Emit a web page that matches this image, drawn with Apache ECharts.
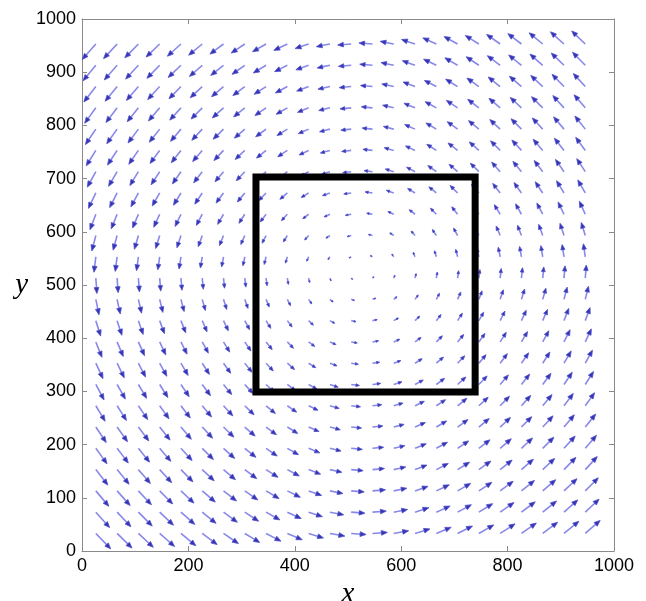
<!DOCTYPE html>
<html>
<head>
<meta charset="utf-8">
<script src="https://cdn.jsdelivr.net/npm/echarts@6/dist/echarts.min.js"></script>
<style>
html,body{margin:0;padding:0;background:#fff;}
#chart{width:646px;height:601px;}
</style>
</head>
<body>
<div id="chart"></div>
<script>
// Grid positions of the arrow tails (data units)
var xGrid = [26,66,106,146,186,226,266,306,346,386,426,466,506,546,586,626,666,706,746,786,826,866,906,946];
var yGrid = [33,73,113,153,193,233,273,313,353,393,433,473,513,553,593,633,673,713,753,793,833,873,913,953];
// Horizontal arrow component read per row (bottom to top), data units
var uByRow = [28,26,24.5,22.5,21,19.5,17.5,15.5,13.5,11.5,9,6,2,-3.5,-7.5,-11,-14,-16,-18,-19.5,-21,-22.5,-24,-25.5];
// Vertical arrow component read per column (left to right), data units
var vByCol = [-29,-27.5,-26,-24.5,-23,-21,-19,-17,-14.5,-12,-8.5,-5,-2,2,5,8.5,11.5,14,16,18,19.5,21,23,24.5];
// Black rectangle corners
var boxX = [327,739,739,327,327];
var boxY = [299,299,703,703,299];
// Tick values
var xTicks = [0,200,400,600,800,1000];
var yTicks = [0,100,200,300,400,500,600,700,800,900,1000];

var arrows = [];
for (var i = 0; i < yGrid.length; i++) {
  for (var j = 0; j < xGrid.length; j++) {
    arrows.push([xGrid[j], yGrid[i], uByRow[i], vByCol[j]]);
  }
}
var boxData = boxX.map(function(x, k){ return [x, boxY[k]]; });

function renderArrow(params, api) {
  var x = api.value(0), y = api.value(1), u = api.value(2), v = api.value(3);
  var p0 = api.coord([x, y]);
  var p1 = api.coord([x + u, y + v]);
  var dx = p1[0] - p0[0], dy = p1[1] - p0[1];
  var len = Math.sqrt(dx*dx + dy*dy);
  if (len < 0.01) return null;
  var ux = dx/len, uy = dy/len;
  var hl = Math.min(6, 0.42*len);
  var hw = hl*0.4;
  var bx = p1[0] - ux*hl, by = p1[1] - uy*hl;
  return {
    type: 'group',
    children: [
      {type:'line', shape:{x1:p0[0], y1:p0[1], x2:bx + ux*1.5, y2:by + uy*1.5},
       style:{stroke:'#8888ea', lineWidth:1.6}},
      {type:'polygon', shape:{points:[[p1[0],p1[1]],[bx - uy*hw, by + ux*hw],[bx + uy*hw, by - ux*hw]]},
       style:{fill:'#3434b4', stroke:'#5050cc', lineWidth:0.8}}
    ]
  };
}

var axisLineStyle = {show:true, onZero:false, lineStyle:{color:'#8a8a8a', width:1}};
var tickStyle = {show:true, inside:true, length:5, lineStyle:{color:'#8a8a8a'}};
var labelStyle = {color:'#000', fontSize:18, fontFamily:'Liberation Sans, Arial, sans-serif',
                  formatter:function(v){ return String(v); }};

var chart = echarts.init(document.getElementById('chart'), null, {renderer:'canvas'});
chart.setOption({
  animation:false,
  backgroundColor:'#fff',
  grid:{left:82, right:32, top:19, bottom:50, containLabel:false, outerBoundsMode:'none'},
  xAxis:[
    {type:'value', min:0, max:1000, interval:200, position:'bottom',
     axisLine:axisLineStyle, axisTick:tickStyle, splitLine:{show:false},
     axisLabel:Object.assign({margin:6}, labelStyle),
     name:'x', nameLocation:'middle', nameGap:16,
     nameTextStyle:{fontFamily:'Liberation Serif, Times New Roman, serif', fontStyle:'italic', fontSize:29, color:'#000'}},
    {type:'value', min:0, max:1000, interval:200, position:'top',
     axisLine:axisLineStyle, axisTick:tickStyle, splitLine:{show:false}, axisLabel:{show:false}}
  ],
  yAxis:[
    {type:'value', min:0, max:1000, interval:100, position:'left',
     axisLine:axisLineStyle, axisTick:tickStyle, splitLine:{show:false},
     axisLabel:Object.assign({margin:6}, labelStyle),
     name:'y', nameLocation:'middle', nameGap:54, nameRotate:0,
     nameTextStyle:{fontFamily:'Liberation Serif, Times New Roman, serif', fontStyle:'italic', fontSize:29, color:'#000'}},
    {type:'value', min:0, max:1000, interval:100, position:'right',
     axisLine:axisLineStyle, axisTick:tickStyle, splitLine:{show:false}, axisLabel:{show:false}}
  ],
  series:[
    {type:'custom', xAxisIndex:0, yAxisIndex:0, renderItem:renderArrow, data:arrows, clip:false, silent:true},
    {type:'line', xAxisIndex:0, yAxisIndex:0, data:boxData, symbol:'none', silent:true,
     lineStyle:{color:'#000', width:7, join:'miter', cap:'square'}, z:5}
  ]
});
</script>
</body>
</html>
